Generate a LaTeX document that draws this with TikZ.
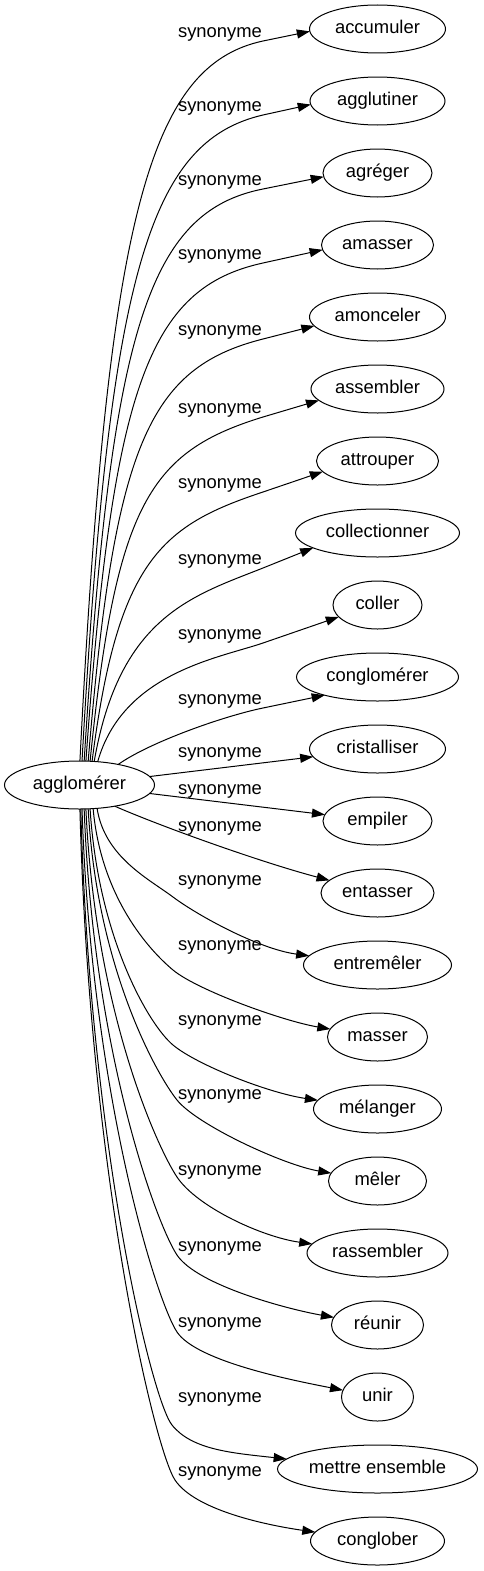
\documentclass[tikz,border=0pt]{standalone}
\usepackage{fontspec}
\setmainfont{Liberation Sans}
\usetikzlibrary{arrows.meta,shapes.geometric}
% top edge: #1 source anchor angle, #2 start x, #3 waypoint y, #4 target, #5 target half width, #6 target y, #7 tip offset
\newcommand\topedge[7]{%
  \pgfmathsetmacro\dyy{762-#3}%
  \pgfmathsetmacro\ff{min(1,\dyy/300)}%
  \pgfmathsetmacro\cc{sqrt(1-(#7/24)^2)}%
  \pgfmathsetmacro\tipx{377.5-#5*\cc}%
  \pgfmathsetmacro\tipy{#6+#7}%
  \pgfmathsetmacro\lenv{veclen(\tipx-263,\tipy-#3)}%
  \pgfmathsetmacro\ux{(\tipx-263)/\lenv}%
  \pgfmathsetmacro\uy{(\tipy-#3)/\lenv}%
  \pgfmathsetmacro\cax{#2+0.15*(263-#2)}%
  \pgfmathsetmacro\cay{#3+0.25*\dyy}%
  \pgfmathsetmacro\cbx{263-118*\ff*\ux}%
  \pgfmathsetmacro\cby{#3-118*\ff*\uy}%
  \pgfmathsetmacro\angv{int(round(180+atan2(#7,#5*\cc)))}%
  \draw[edge] (src.#1) .. controls (\cax,\cay) and (\cbx,\cby) .. (263,#3) -- (#4.\angv);}
% bottom edge
\newcommand\botedge[9]{%
  \pgfmathsetmacro\cax{#2+0.1*(#3-#2)}%
  \pgfmathsetmacro\cay{808+0.55*(#4-808)}%
  \pgfmathsetmacro\cbx{#3-#5}%
  \pgfmathsetmacro\cby{#4-#6}%
  \pgfmathsetmacro\ccx{#3+#5}%
  \pgfmathsetmacro\ccy{#4+#6}%
  \draw[edge] (src.#1) .. controls (\cax,\cay) and (\cbx,\cby) .. (#3,#4) .. controls (\ccx,\ccy) and (#7,#8) .. (#9);}
\begin{document}
\begin{tikzpicture}[x=1pt,y=-1pt,
  every node/.style={font=\fontsize{18.4}{22}\selectfont, text height=13.2pt, text depth=3.7pt},
  word/.style={draw, ellipse, line width=1pt, inner sep=0pt, outer sep=0pt, minimum height=48pt},
  lab/.style={inner sep=0pt},
  edge/.style={line width=1pt, -{Triangle[length=13pt,width=9pt]}}]
\useasboundingbox (0,0) rectangle (483,1571);
\fill[white] (0,0) rectangle (483,1571);
\node[word, minimum width=150pt] (src) at (79.5,785) {agglomérer};
\node[word, minimum width=136pt] (t1) at (377.5,29) {accumuler};
\node[word, minimum width=135pt] (t2) at (377.5,101) {agglutiner};
\node[word, minimum width=109pt] (t3) at (377.5,173) {agréger};
\node[word, minimum width=112pt] (t4) at (377.5,245) {amasser};
\node[word, minimum width=136pt] (t5) at (377.5,317) {amonceler};
\node[word, minimum width=133pt] (t6) at (377.5,389) {assembler};
\node[word, minimum width=122pt] (t7) at (377.5,461) {attrouper};
\node[word, minimum width=164pt] (t8) at (377.5,533) {collectionner};
\node[word, minimum width=89pt] (t9) at (377.5,605) {coller};
\node[word, minimum width=162pt] (t10) at (377.5,677) {conglomérer};
\node[word, minimum width=136pt] (t11) at (377.5,749) {cristalliser};
\node[word, minimum width=109pt] (t12) at (377.5,821) {empiler};
\node[word, minimum width=113pt] (t13) at (377.5,893) {entasser};
\node[word, minimum width=148pt] (t14) at (377.5,965) {entremêler};
\node[word, minimum width=100pt] (t15) at (377.5,1037) {masser};
\node[word, minimum width=128pt] (t16) at (377.5,1109) {mélanger};
\node[word, minimum width=98pt] (t17) at (377.5,1181) {mêler};
\node[word, minimum width=141pt] (t18) at (377.5,1253) {rassembler};
\node[word, minimum width=92pt] (t19) at (377.5,1325) {réunir};
\node[word, minimum width=72pt] (t20) at (377.5,1397) {unir};
\node[word, minimum width=200pt] (t21) at (377.5,1469) {mettre ensemble};
\node[word, minimum width=134pt] (t22) at (377.5,1541) {conglober};
\foreach \yy [count=\i] in {33,107,181,255,331,409,484,560,635,700,753,790,827,881,946,1021,1095,1171,1247,1323,1398,1472}
  \node[lab] (l\i) at (220,\yy) {synonyme};
\topedge{89}{80}{41}{t1}{68}{29}{2}
\topedge{84}{82}{115}{t2}{67.5}{101}{3}
\topedge{79}{84}{189}{t3}{54.5}{173}{4}
\topedge{75}{86}{263}{t4}{56}{245}{5}
\topedge{70}{88}{339}{t5}{68}{317}{9}
\topedge{66}{90}{417}{t6}{66.5}{389}{11}
\topedge{62}{92}{492}{t7}{61}{461}{11}
\topedge{58}{94}{568}{t8}{82}{533}{15}
\topedge{52}{98}{643}{t9}{44.5}{605}{12}
\draw[edge] (src.28) .. controls (150,742) and (224,716) .. (263,708) -- (t10.199);
\draw[edge] (src) -- (t11);
\draw[edge] (src) -- (t12);
\draw[edge] (src.-31) .. controls (160,826) and (260,862) .. (t13);
\botedge{-53}{97}{173}{897}{24}{18}{258.5}{949}{t14}
\botedge{-60}{93}{173}{970}{24}{20}{282.5}{1021}{t15}
\botedge{-66}{90}{173}{1045}{24}{20}{268.5}{1093}{t16}
\botedge{-70}{88}{177}{1100}{20}{25}{283.5}{1165}{t17}
\botedge{-75}{86}{177}{1177}{20}{30}{262}{1237}{t18}
\botedge{-79}{84}{177}{1255}{20}{30}{286.5}{1309}{t19}
\botedge{-84}{82}{177}{1332}{20}{30}{296.5}{1381}{t20}
\botedge{-87}{81}{172}{1425}{20}{25}{232.5}{1453}{t21}
\botedge{-89}{80}{175}{1480}{20}{30}{265.5}{1525}{t22}
\end{tikzpicture}
\end{document}
